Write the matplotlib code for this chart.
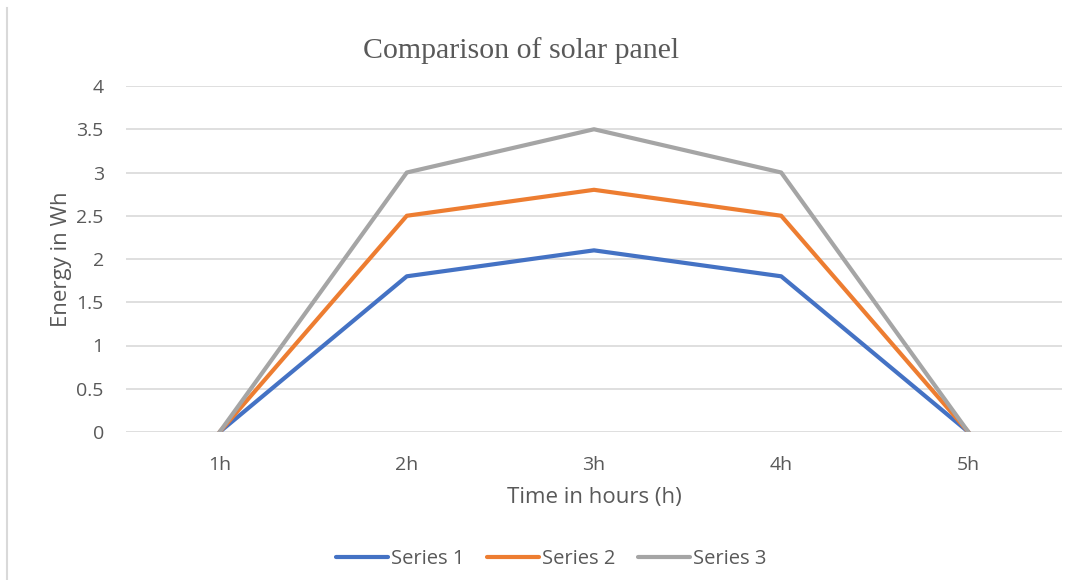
import matplotlib.pyplot as plt
from matplotlib.lines import Line2D

# chart data
hours = ["1h", "2h", "3h", "4h", "5h"]
series_1 = [0, 1.8, 2.1, 1.8, 0]
series_2 = [0, 2.5, 2.8, 2.5, 0]
series_3 = [0, 3.0, 3.5, 3.0, 0]
series_names = ["Series 1", "Series 2", "Series 3"]
colors = ["#4472C4", "#ED7D31", "#A5A5A5"]
y_ticks = [0, 0.5, 1, 1.5, 2, 2.5, 3, 3.5, 4]

text_color = "#595959"
font = "Open Sans"

W, H = 1077, 580
fig = plt.figure(figsize=(W / 100, H / 100), dpi=100)
ax = fig.add_axes([126 / W, 1 - 432 / H, (1062 - 126) / W, (432 - 86) / H])

x = list(range(len(hours)))
for vals, name, col in zip([series_1, series_2, series_3], series_names, colors):
    ax.plot(x, vals, color=col, linewidth=3, label=name,
            solid_capstyle="round", solid_joinstyle="round", zorder=3)

ax.set_xlim(-0.5, len(hours) - 0.5)
ax.set_ylim(0, 4)
ax.set_yticks(y_ticks)
ax.set_yticklabels([f"{v:g}" for v in y_ticks])
ax.set_xticks(x)
ax.set_xticklabels(hours)
ax.grid(axis="y", color="#D9D9D9", linewidth=1.2)
ax.set_axisbelow(True)
for s in ax.spines.values():
    s.set_visible(False)
ax.tick_params(length=0, labelsize=14, labelcolor=text_color)
ax.tick_params(axis="x", pad=17.5)
ax.tick_params(axis="y", pad=16)
for lab in ax.get_xticklabels() + ax.get_yticklabels():
    lab.set_fontfamily(font)

ax.set_ylabel("Energy in Wh", fontsize=16, color=text_color, family=font,
              va="center", ha="center")
ax.yaxis.set_label_coords((61 - 126) / 936, 0.5)
ax.set_xlabel("Time in hours (h)", fontsize=16, color=text_color, family=font,
              va="center", ha="center")
ax.xaxis.set_label_coords(0.5, -(497 - 432) / 346)

fig.text(521 / W, 1 - 51 / H, "Comparison of solar panel", ha="center", va="center",
         fontsize=21.5, color=text_color, family="Liberation Serif")

# left border line of the chart area
fig.add_artist(Line2D([7 / W, 7 / W], [0, 1 - 8 / H], color="#D9D9D9", linewidth=1.5))

handles = [Line2D([], [], color=c, linewidth=3, solid_capstyle="round") for c in colors]
fig.legend(handles, series_names, loc="center", bbox_to_anchor=(551 / W, 1 - 559 / H),
           ncol=3, frameon=False, handlelength=2.6, handletextpad=0.15, columnspacing=1.1,
           prop={"family": font, "size": 14.5}, labelcolor=text_color)

fig.savefig("out.png", dpi=100)
